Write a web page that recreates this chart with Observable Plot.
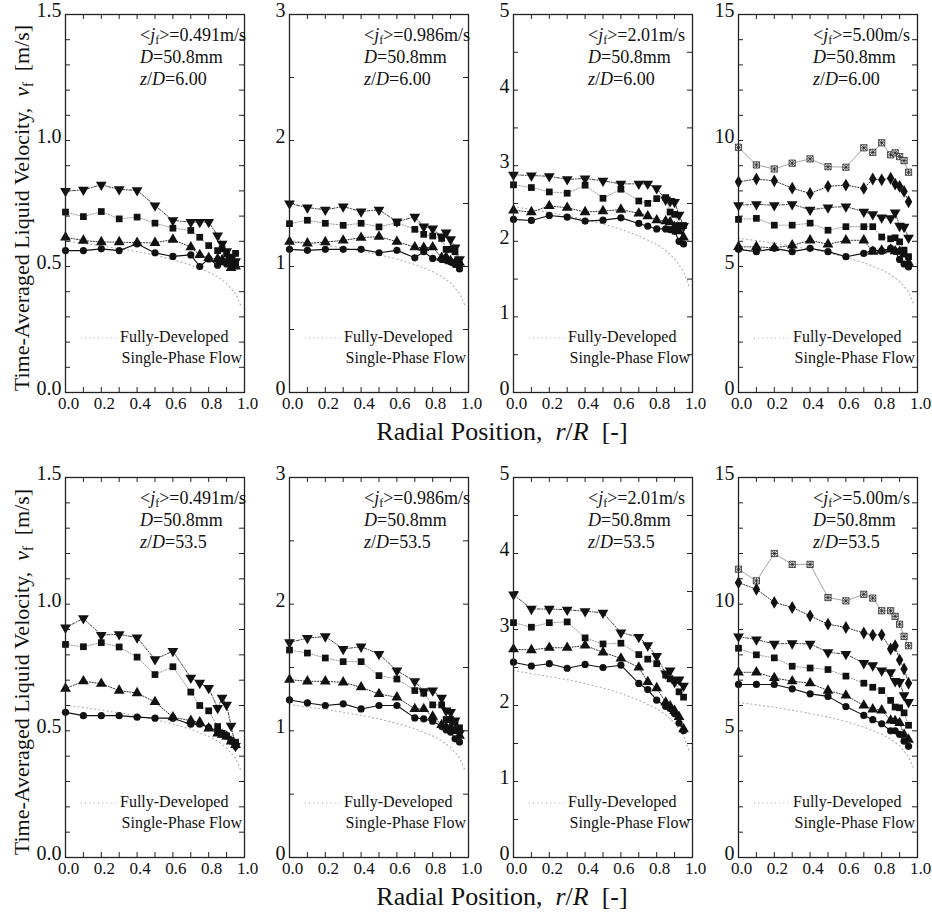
<!DOCTYPE html>
<html><head><meta charset="utf-8">
<script src="https://cdn.jsdelivr.net/npm/d3@7"></script>
<script src="https://cdn.jsdelivr.net/npm/@observablehq/plot@0.6"></script>
<style>
body{margin:0;background:#fff;}
#wrap{position:relative;width:932px;height:922px;overflow:hidden;font-family:"Liberation Serif","Times New Roman",serif;color:#111;background:#fff;}
.panel{position:absolute;}
.panel svg{overflow:visible;font-family:"Liberation Serif","Times New Roman",serif !important;}
.panel svg text{font-family:"Liberation Serif","Times New Roman",serif !important;}
.ann{position:absolute;font-size:18px;line-height:22px;white-space:nowrap;font-family:"Liberation Serif",serif;}
.ann sub{font-size:12px;vertical-align:-3px;line-height:0;}
.leg{position:absolute;font-size:16px;line-height:21px;white-space:nowrap;font-family:"Liberation Serif",serif;}
.xt{position:absolute;font-size:26px;white-space:nowrap;transform:translateX(-50%);font-family:"Liberation Serif",serif;}
.yt{position:absolute;font-size:22px;white-space:nowrap;width:400px;text-align:center;transform:rotate(-90deg);font-family:"Liberation Serif",serif;}
.yt sub{font-size:14px;vertical-align:-4px;line-height:0;}
</style>
</head><body><div id="wrap"></div>
<script>
// ---------- data ----------
const rPos = [0, 0.1, 0.2, 0.3, 0.4, 0.5, 0.6, 0.7, 0.75, 0.8, 0.85, 0.875, 0.9, 0.925, 0.95];

// z/D = 6.00
const z6_j0491_circle = [0.563,0.563,0.570,0.563,0.590,0.554,0.540,0.546,0.500,0.530,0.505,0.520,0.510,0.520,0.510];
const z6_j0491_triUp  = [0.616,0.603,0.597,0.597,0.594,0.594,0.607,0.577,0.546,0.534,0.530,0.526,0.517,0.494,0.500];
const z6_j0491_square = [0.716,0.698,0.718,0.689,0.696,0.672,0.652,0.643,0.616,0.583,0.563,0.570,0.550,0.537,0.552];
const z6_j0491_triDown= [0.799,0.804,0.824,0.806,0.802,0.742,0.683,0.676,0.676,0.676,0.623,0.590,0.560,0.530,0.520];

const z6_j0986_circle = [1.136,1.128,1.136,1.136,1.136,1.109,1.128,1.069,1.117,1.064,1.056,1.050,1.037,1.016,0.980];
const z6_j0986_triUp  = [1.197,1.184,1.194,1.207,1.229,1.237,1.197,1.154,1.149,1.154,1.070,1.074,1.043,1.030,1.030];
const z6_j0986_square = [1.340,1.367,1.343,1.327,1.343,1.314,1.348,1.295,1.255,1.242,1.223,1.136,1.136,1.117,1.016];
const z6_j0986_triDown= [1.500,1.468,1.450,1.476,1.436,1.450,1.356,1.394,1.316,1.300,1.237,1.269,1.215,1.149,1.056];

const z6_j201_circle  = [2.29,2.276,2.342,2.32,2.267,2.28,2.31,2.236,2.20,2.164,2.164,2.155,2.133,2.00,1.965];
const z6_j201_triUp   = [2.41,2.387,2.467,2.444,2.387,2.40,2.42,2.369,2.333,2.28,2.267,2.253,2.19,2.133,2.053];
const z6_j201_square  = [2.747,2.711,2.653,2.636,2.742,2.569,2.689,2.533,2.502,2.564,2.578,2.387,2.356,2.209,2.209];
const z6_j201_triDown = [2.88,2.87,2.86,2.82,2.83,2.80,2.76,2.76,2.76,2.70,2.55,2.53,2.52,2.35,2.20];

const z6_j500_circle  = [5.68,5.59,5.72,5.59,5.72,5.59,5.39,5.52,5.65,5.61,5.72,5.61,5.28,5.10,4.98];
const z6_j500_triUp   = [5.78,5.78,5.74,5.84,6.04,5.88,6.04,6.04,5.59,5.64,5.68,5.61,5.59,5.48,5.15];
const z6_j500_square  = [6.87,6.91,6.64,6.64,6.72,6.44,6.58,6.58,6.58,6.17,6.10,6.14,5.98,5.65,5.39];
const z6_j500_triDown = [7.43,7.47,7.43,7.47,7.25,7.34,7.38,7.17,7.07,6.94,6.91,7.14,6.61,6.57,6.14];
const z6_j500_diamond = [8.36,8.47,8.40,8.11,7.90,8.18,8.23,8.10,8.47,8.44,8.50,8.27,8.18,7.98,7.57];
const z6_j500_asterisk= [9.73,9.03,8.87,9.10,9.27,8.96,8.94,9.71,9.53,9.91,9.43,9.51,9.36,9.20,8.74];

// z/D = 53.5
const z53_j0491_circle = [0.573,0.560,0.560,0.560,0.554,0.550,0.550,0.526,0.526,0.513,0.500,0.487,0.480,0.460,0.440];
const z53_j0491_triUp  = [0.667,0.696,0.686,0.659,0.649,0.614,0.554,0.540,0.534,0.510,0.490,0.485,0.478,0.458,0.445];
const z53_j0491_square = [0.841,0.832,0.848,0.831,0.791,0.722,0.753,0.653,0.600,0.579,0.517,0.490,0.480,0.463,0.455];
const z53_j0491_triDown= [0.907,0.944,0.878,0.881,0.868,0.782,0.815,0.709,0.689,0.669,0.590,0.630,0.603,0.520,0.440];

const z53_j0986_circle = [1.244,1.220,1.200,1.213,1.173,1.200,1.200,1.102,1.094,1.076,1.037,1.008,0.990,0.937,0.911];
const z53_j0986_triUp  = [1.404,1.391,1.391,1.383,1.344,1.291,1.265,1.173,1.173,1.113,1.047,1.029,1.029,1.000,0.963];
const z53_j0986_square = [1.638,1.614,1.575,1.546,1.546,1.436,1.409,1.318,1.297,1.205,1.205,1.089,1.089,1.068,1.024];
const z53_j0986_triDown= [1.698,1.732,1.745,1.646,1.664,1.606,1.475,1.391,1.312,1.318,1.260,1.160,1.147,1.081,0.980];

const z53_j201_circle  = [2.57,2.52,2.55,2.49,2.54,2.50,2.53,2.29,2.21,2.07,1.99,1.96,1.89,1.77,1.67];
const z53_j201_triUp   = [2.74,2.73,2.76,2.76,2.79,2.70,2.62,2.50,2.31,2.23,2.04,1.99,1.93,1.85,1.69];
const z53_j201_square  = [3.09,3.03,3.09,3.10,2.89,2.81,2.82,2.67,2.61,2.55,2.40,2.35,2.33,2.18,2.11];
const z53_j201_triDown = [3.46,3.27,3.27,3.26,3.24,3.22,2.96,2.90,2.79,2.65,2.42,2.46,2.31,2.34,2.26];

const z53_j500_circle  = [6.83,6.83,6.83,6.66,6.46,6.36,5.96,5.61,5.44,5.28,5.00,5.00,4.86,4.59,4.39];
const z53_j500_triUp   = [7.31,7.31,7.09,6.96,6.88,6.59,6.40,6.00,5.85,5.81,5.41,5.39,5.31,4.85,4.65];
const z53_j500_square  = [8.26,8.00,7.88,7.55,7.48,7.42,7.16,6.88,6.72,6.59,6.20,5.94,5.91,5.71,5.22];
const z53_j500_triDown = [8.72,8.60,8.43,8.45,8.43,8.10,8.03,7.67,7.58,7.38,7.31,6.96,6.92,6.40,6.13];
const z53_j500_diamond = [10.85,10.59,10.07,9.87,9.54,9.21,9.08,8.86,8.78,8.79,8.23,8.36,7.80,7.44,6.88];
const z53_j500_asterisk= [11.38,10.92,12.00,11.57,11.57,10.26,10.13,10.39,10.24,9.74,9.74,9.52,9.21,8.73,8.36];

// fully-developed single-phase flow profiles
const spR      = [0, 0.1, 0.2, 0.3, 0.4, 0.5, 0.6, 0.7, 0.8, 0.85, 0.9, 0.95, 0.98];
const sp_j0491 = [0.601,0.592,0.582,0.571,0.559,0.545,0.527,0.506,0.478,0.459,0.433,0.392,0.344];
const sp_j0986 = [1.207,1.189,1.170,1.147,1.122,1.094,1.059,1.016,0.960,0.921,0.869,0.787,0.690];
const sp_j201  = [2.46,2.42,2.38,2.34,2.29,2.23,2.16,2.07,1.96,1.88,1.77,1.60,1.41];
const sp_j500  = [6.12,6.03,5.93,5.81,5.69,5.54,5.37,5.15,4.87,4.67,4.41,3.99,3.50];

// axis ticks
const xMajor = [0, 0.2, 0.4, 0.6, 0.8, 1.0];
const xMinor = [0,0.1,0.2,0.3,0.4,0.5,0.6,0.7,0.8,0.9,1.0];
const yMax   = [1.5, 3, 5, 15];
const yMajorTicks = [[0,0.5,1.0,1.5],[0,1,2,3],[0,1,2,3,4,5],[0,5,10,15]];
const yMinorTicks = [
  [0,0.1,0.2,0.3,0.4,0.5,0.6,0.7,0.8,0.9,1.0,1.1,1.2,1.3,1.4,1.5],
  [0,0.5,1,1.5,2,2.5,3],
  [0,0.5,1,1.5,2,2.5,3,3.5,4,4.5,5],
  [0,1,2,3,4,5,6,7,8,9,10,11,12,13,14,15]
];
const jLabels  = ["0.491","0.986","2.01","5.00"];
const zLabels  = ["6.00","53.5"];

const panelsData = [
  [ // z/D = 6.00
    {sp: sp_j0491, series: {circle: z6_j0491_circle, triUp: z6_j0491_triUp, square: z6_j0491_square, triDown: z6_j0491_triDown}},
    {sp: sp_j0986, series: {circle: z6_j0986_circle, triUp: z6_j0986_triUp, square: z6_j0986_square, triDown: z6_j0986_triDown}},
    {sp: sp_j201,  series: {circle: z6_j201_circle,  triUp: z6_j201_triUp,  square: z6_j201_square,  triDown: z6_j201_triDown}},
    {sp: sp_j500,  series: {circle: z6_j500_circle,  triUp: z6_j500_triUp,  square: z6_j500_square,  triDown: z6_j500_triDown, diamond: z6_j500_diamond, asterisk: z6_j500_asterisk}}
  ],
  [ // z/D = 53.5
    {sp: sp_j0491, series: {circle: z53_j0491_circle, triUp: z53_j0491_triUp, square: z53_j0491_square, triDown: z53_j0491_triDown}},
    {sp: sp_j0986, series: {circle: z53_j0986_circle, triUp: z53_j0986_triUp, square: z53_j0986_square, triDown: z53_j0986_triDown}},
    {sp: sp_j201,  series: {circle: z53_j201_circle,  triUp: z53_j201_triUp,  square: z53_j201_square,  triDown: z53_j201_triDown}},
    {sp: sp_j500,  series: {circle: z53_j500_circle,  triUp: z53_j500_triUp,  square: z53_j500_square,  triDown: z53_j500_triDown, diamond: z53_j500_diamond, asterisk: z53_j500_asterisk}}
  ]
];

// ---------- styles ----------
const SERIF = "'Liberation Serif','Times New Roman',serif";
const triDownSym = {draw(ctx, size){
  const y = -Math.sqrt(size / (Math.sqrt(3) * 3)), s3 = Math.sqrt(3);
  ctx.moveTo(0, -y * 2); ctx.lineTo(-s3 * y, y); ctx.lineTo(s3 * y, y); ctx.closePath();
}};
const boxStarSym = {draw(ctx, size){
  const s = Math.sqrt(size) / 2;
  ctx.moveTo(-s,-s); ctx.lineTo(s,-s); ctx.lineTo(s,s); ctx.lineTo(-s,s); ctx.closePath();
  ctx.moveTo(-s,-s); ctx.lineTo(s,s); ctx.moveTo(-s,s); ctx.lineTo(s,-s);
  ctx.moveTo(0,-s); ctx.lineTo(0,s); ctx.moveTo(-s,0); ctx.lineTo(s,0);
}};
const seriesStyle = {
  asterisk: {symbol: boxStarSym, fill: "white", dotStroke: "#222", r: 3.5, line: "#9a9a9a", dash: null, lw: 0.9},
  diamond:  {symbol: "diamond",  fill: "#111", dotStroke: "none", r: 3.9, line: "#333", dash: "1.2,1.6", lw: 1},
  triDown:  {symbol: triDownSym, fill: "#111", dotStroke: "none", r: 4.0, line: "#444", dash: "3,1.6,1,1.6", lw: 1},
  square:   {symbol: "square",   fill: "#111", dotStroke: "none", r: 3.8, line: "#9a9a9a", dash: "1.2,1.6", lw: 1},
  triUp:    {symbol: "triangle", fill: "#111", dotStroke: "none", r: 4.0, line: "#333", dash: "1.2,1.6", lw: 1},
  circle:   {symbol: "circle",   fill: "#111", dotStroke: "none", r: 3.6, line: "#111", dash: null, lw: 1.1}
};
const drawOrder = ["asterisk","diamond","triDown","square","triUp","circle"];

// ---------- layout ----------
const lefts = [65, 289, 513, 738];
const tops  = [14, 477];
const PW = 179, PHs = [378, 380];
const mL = 36, mR = 14, mT = 14, mB = 32;
const wrap = document.getElementById("wrap");

function makePanel(row, col){
  const pd = panelsData[row][col];
  const PH = PHs[row];
  const fmt = col === 0 ? d3.format(".1f") : d3.format("d");
  const marks = [];
  marks.push(Plot.line(spR.map((r,i)=>({r, v: pd.sp[i]})), {x:"r", y:"v", stroke:"#aaa", strokeWidth:1.1, strokeDasharray:"1,3.2"}));
  for (const k of drawOrder) {
    if (!pd.series[k]) continue;
    const st = seriesStyle[k];
    const rows = rPos.map((r,i)=>({r, v: pd.series[k][i]}));
    marks.push(Plot.line(rows, {x:"r", y:"v", stroke: st.line, strokeWidth: st.lw, strokeDasharray: st.dash}));
  }
  for (const k of drawOrder) {
    if (!pd.series[k]) continue;
    const st = seriesStyle[k];
    const rows = rPos.map((r,i)=>({r, v: pd.series[k][i]}));
    marks.push(Plot.dot(rows, {x:"r", y:"v", symbol: st.symbol, r: st.r, fill: st.fill, stroke: st.dotStroke, strokeWidth: 0.8}));
  }
  const yMin = yMinorTicks[col], yMaj = yMajorTicks[col];
  marks.push(
    Plot.tickX(xMinor, {x: d=>d, insetTop: PH - 5, stroke:"#222", strokeWidth:1}),
    Plot.tickX(xMinor, {x: d=>d, insetBottom: PH - 5, stroke:"#222", strokeWidth:1}),
    Plot.tickY(yMin, {y: d=>d, insetRight: PW - 5, stroke:"#222", strokeWidth:1}),
    Plot.tickY(yMin, {y: d=>d, insetLeft: PW - 5, stroke:"#222", strokeWidth:1}),
    Plot.frame({stroke:"#222", strokeWidth:1.3}),
    Plot.axisX({ticks: xMajor, tickSize: 0, tickPadding: 4, dx: 3, tickFormat: d3.format(".1f"), fontSize: 17, fontFamily: SERIF, label: null, fill:"#111"}),
    Plot.axisY({ticks: yMaj, tickSize: 0, tickPadding: 4, dy: -4, tickFormat: fmt, fontSize: 20, fontFamily: SERIF, label: null, fill:"#111"})
  );
  const svg = Plot.plot({
    width: PW + mL + mR, height: PH + mT + mB,
    marginLeft: mL, marginRight: mR, marginTop: mT, marginBottom: mB,
    x: {domain: [0, 1], label: null},
    y: {domain: [0, yMax[col]], label: null},
    style: {fontFamily: SERIF, background: "transparent", color: "#111", overflow: "visible"},
    marks
  });
  const div = document.createElement("div");
  div.className = "panel";
  div.style.left = (lefts[col] - mL) + "px";
  div.style.top = (tops[row] - mT) + "px";
  div.appendChild(svg);
  wrap.appendChild(div);

  // annotation
  const ann = document.createElement("div");
  ann.className = "ann";
  ann.style.left = (lefts[col] + 75) + "px";
  ann.style.top = (tops[row] + 10) + "px";
  ann.innerHTML = `&lt;<i>j</i><sub>f</sub>&gt;=${jLabels[col]}m/s<br><i>D</i>=50.8mm<br><i>z</i>/<i>D</i>=${zLabels[row]}`;
  wrap.appendChild(ann);

  // legend
  const bottom = tops[row] + PH;
  const leg1 = document.createElement("div");
  leg1.className = "leg";
  leg1.style.left = (lefts[col] + 16) + "px";
  leg1.style.top = (bottom - 66) + "px";
  leg1.innerHTML = `<svg width="36" height="6" style="vertical-align:middle;margin-right:3px"><line x1="0" y1="3" x2="36" y2="3" stroke="#aaa" stroke-width="1.1" stroke-dasharray="1,3.2"/></svg>Fully-Developed`;
  wrap.appendChild(leg1);
  const leg2 = document.createElement("div");
  leg2.className = "leg";
  leg2.style.right = (932 - (lefts[col] + PW) + 2) + "px";
  leg2.style.top = (bottom - 45) + "px";
  leg2.textContent = "Single-Phase Flow";
  wrap.appendChild(leg2);
}

for (let row = 0; row < 2; row++) for (let col = 0; col < 4; col++) makePanel(row, col);

// axis titles
for (let row = 0; row < 2; row++) {
  const xt = document.createElement("div");
  xt.className = "xt";
  xt.style.left = "502px";
  xt.style.top = (tops[row] + PHs[row] + 25) + "px";
  xt.innerHTML = `Radial Position,&nbsp; <i>r</i>/<i>R</i>&nbsp; [-]`;
  wrap.appendChild(xt);
  const yt = document.createElement("div");
  yt.className = "yt";
  const cy = tops[row] + PHs[row] / 2 + 6;
  yt.style.left = (22 - 200) + "px";
  yt.style.top = (cy - 14) + "px";
  yt.innerHTML = `Time-Averaged Liquid Velocity,&nbsp; <i>v</i><sub>f</sub>&nbsp; [m/s]`;
  wrap.appendChild(yt);
}
</script></body></html>
